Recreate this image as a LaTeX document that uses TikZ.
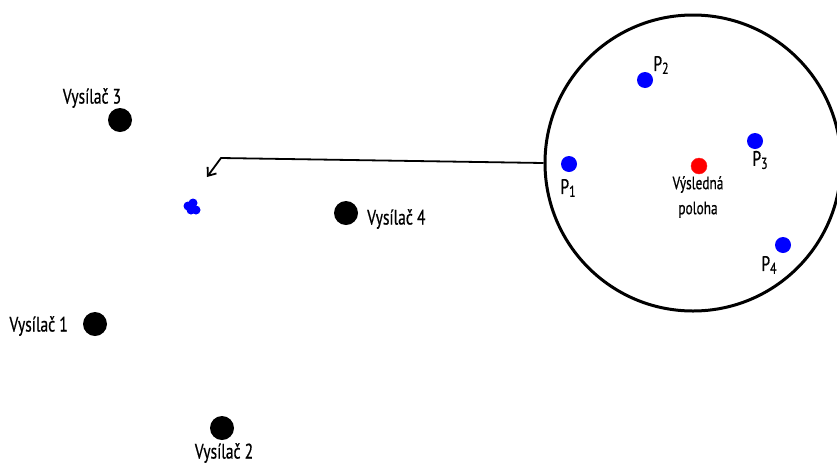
\documentclass[tikz,border=0pt]{standalone}
\usepackage{fontspec}
\setmainfont[FakeStretch=0.74, FakeBold=0.6]{PT Sans}
\usetikzlibrary{arrows.meta}
\newcommand{\sbs}[1]{{\fontsize{16}{16}\selectfont\raisebox{-3pt}{#1}}}
\begin{document}
\begin{tikzpicture}[x=1pt,y=-1pt,
  tx/.style={font=\fontsize{21}{23}\selectfont, inner sep=0pt},
  small/.style={font=\fontsize{18}{25}\selectfont, inner sep=0pt, align=center},
  bdot/.style={circle, fill=black, minimum size=24pt, inner sep=0pt},
  pdot/.style={circle, fill=blue, minimum size=16pt, inner sep=0pt},
  cdot/.style={circle, fill=blue, minimum size=9pt, inner sep=0pt},
  rdot/.style={circle, fill=red, draw=red!85!white, minimum size=16pt, inner sep=0pt}]
\useasboundingbox (0,0) rectangle (837,464);
\begin{scope}
\clip (0,0) rectangle (837,464);
\node[circle, draw=black, line width=3pt, minimum size=296pt, inner sep=0pt] (zoom) at (693,163) {};
\end{scope}
% transmitters
\node[bdot] (v3) at (120,120) {};
\node[tx] (l3) at (92,98) {Vysílač 3};
\node[bdot] (v4) at (346,213) {};
\node[tx, anchor=west] (l4) at (367,219) {Vysílač 4};
\node[bdot] (v1) at (95,324) {};
\node[tx, anchor=east] (l1) at (68,326) {Vysílač 1};
\node[bdot] (v2) at (222,428) {};
\node[tx] (l2) at (224,453) {Vysílač 2};
% cluster
\node[cdot] (c1) at (188,206) {};
\node[cdot] (c2) at (193,203) {};
\node[cdot] (c3) at (196,210) {};
\node[cdot] (c4) at (191,210) {};
% detail points
\node[pdot] (p1) at (569,164) {};
\node[tx] at (568,188) {P\sbs{1}};
\node[pdot] (p2) at (645,80) {};
\node[tx] at (661,65) {P\sbs{2}};
\node[pdot] (p3) at (755,141) {};
\node[tx] at (760,160) {P\sbs{3}};
\node[pdot] (p4) at (783,245) {};
\node[tx] at (769,265) {P\sbs{4}};
\node[rdot] (res) at (699,166) {};
\node[small] (resl) at (698,197) {Výsledná\\poloha};
% arrow
\coordinate (bend) at (221,158);
\coordinate (tip) at (207,177);
\draw[line width=1.8pt, -{Straight Barb[length=7pt, width=11pt, line width=1.8pt]}] (zoom.west) -- (bend) -- (tip);
\end{tikzpicture}
\end{document}
